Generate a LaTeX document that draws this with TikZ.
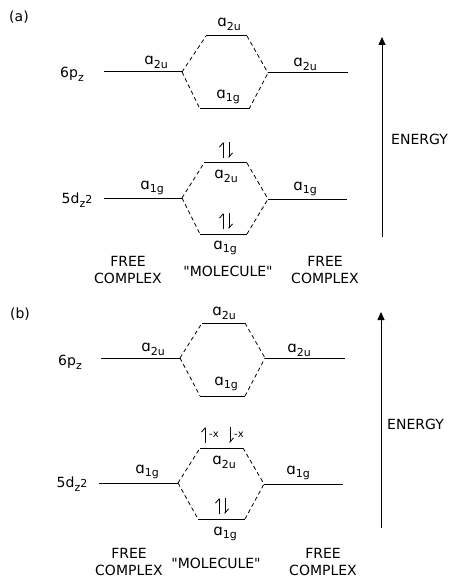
\documentclass[tikz,border=0pt]{standalone}
\usepackage{fontspec}
\setmainfont{DejaVu Sans}[Ligatures=TeXOff]
\usetikzlibrary{arrows.meta}
\newcommand{\sbs}[1]{\raisebox{-0.5ex}{\fontsize{11}{11}\selectfont #1}}
\newcommand{\orb}[1]{{\fontsize{15}{15}\selectfont ɑ}\sbs{#1}}
\newcommand{\pz}{6p\sbs{z}}
\newcommand{\dz}{5d\sbs{z}{\fontsize{11}{11}\selectfont 2}}
\newcommand{\spins}[2]{%
  \draw[spin] (#1-3,#2) -- (#1-3,#2-16);
  \draw[spin] (#1+3,#2-16) -- (#1+3,#2);}
\begin{document}
\begin{tikzpicture}[x=1pt,y=-1pt,
  font=\fontsize{14}{17}\selectfont,
  lvl/.style={line width=1pt},
  corr/.style={line width=0.8pt, dash pattern=on 4pt off 3pt},
  lab/.style={inner sep=0pt},
  spin/.style={line width=0.8pt, -{Straight Barb[left,length=4pt,width=7pt]}},
  axis/.style={line width=0.8pt, -{Triangle[length=8pt,width=7pt]}},
  captxt/.style={inner sep=0pt, align=center}]
\fill[white] (0,0) rectangle (450,580);
\useasboundingbox (0,0) rectangle (450,580);

% ================= panel (a) =================
\node[lab] (pa) at (19,17) {(a)};
% upper levels
\coordinate (a1L) at (104,72);
\coordinate (a1l) at (182,72);
\coordinate (a1tl) at (206,36);
\coordinate (a1tr) at (247,36);
\coordinate (a1r) at (268,73);
\coordinate (a1bl) at (200,109);
\coordinate (a1br) at (249,109);
\coordinate (a1R) at (348,73);
\draw[lvl] (a1L) -- (a1l);
\draw[lvl] (a1r) -- (a1R);
\draw[lvl] (a1tl) -- (a1tr);
\draw[lvl] (a1bl) -- (a1br);
\draw[corr] (a1l) -- (a1tl);
\draw[corr] (a1tr) -- (a1r);
\draw[corr] (a1l) -- (a1bl);
\draw[corr] (a1br) -- (a1r);
\node[lab] (a1name) at (72,74) {\pz};
\node[lab] (a1la) at (156,62) {\orb{2u}};
\node[lab] (a1ta) at (229,24) {\orb{2u}};
\node[lab] (a1ba) at (228,97) {\orb{1g}};
\node[lab] (a1ra) at (305,64) {\orb{2u}};
% lower levels
\coordinate (a2L) at (104,198);
\coordinate (a2l) at (182,198);
\coordinate (a2tl) at (204,163);
\coordinate (a2tr) at (247,163);
\coordinate (a2r) at (268,199);
\coordinate (a2bl) at (200,234);
\coordinate (a2br) at (247,234);
\coordinate (a2R) at (347,199);
\draw[lvl] (a2L) -- (a2l);
\draw[lvl] (a2r) -- (a2R);
\draw[lvl] (a2tl) -- (a2tr);
\draw[lvl] (a2bl) -- (a2br);
\draw[corr] (a2l) -- (a2tl);
\draw[corr] (a2tr) -- (a2r);
\draw[corr] (a2l) -- (a2bl);
\draw[corr] (a2br) -- (a2r);
\node[lab] (a2name) at (77,200) {\dz};
\node[lab] (a2la) at (152,188) {\orb{1g}};
\node[lab] (a2ta) at (226,176) {\orb{2u}};
\node[lab] (a2ba) at (225,248) {\orb{1g}};
\node[lab] (a2ra) at (305,189) {\orb{1g}};
\spins{226}{158}
\spins{226}{229}
% captions
\node[captxt] (a3l) at (128,270) {FREE\\COMPLEX};
\node[captxt] (a3m) at (228,271) {"MOLECULE"};
\node[captxt] (a3r) at (325,270) {FREE\\COMPLEX};
% energy axis
\coordinate (ea0) at (382,237);
\coordinate (ea1) at (382,37);
\draw[axis] (ea0) -- (ea1);
\node[lab, anchor=west] (ea) at (391,139) {ENERGY};

% ================= panel (b) =================
\node[lab] (pb) at (20,314) {(b)};
% upper levels
\coordinate (b1L) at (101,358);
\coordinate (b1l) at (180,358);
\coordinate (b1tl) at (202,323);
\coordinate (b1tr) at (245,323);
\coordinate (b1r) at (265,358);
\coordinate (b1bl) at (200,396);
\coordinate (b1br) at (245,396);
\coordinate (b1R) at (345,358);
\draw[lvl] (b1L) -- (b1l);
\draw[lvl] (b1r) -- (b1R);
\draw[lvl] (b1tl) -- (b1tr);
\draw[lvl] (b1bl) -- (b1br);
\draw[corr] (b1l) -- (b1tl);
\draw[corr] (b1tr) -- (b1r);
\draw[corr] (b1l) -- (b1bl);
\draw[corr] (b1br) -- (b1r);
\node[lab] (b1name) at (70,362) {\pz};
\node[lab] (b1la) at (153,349) {\orb{2u}};
\node[lab] (b1ta) at (224,313) {\orb{2u}};
\node[lab] (b1ba) at (226,384) {\orb{1g}};
\node[lab] (b1ra) at (299,350) {\orb{2u}};
% lower levels
\coordinate (b2L) at (99,483);
\coordinate (b2l) at (178,483);
\coordinate (b2tl) at (200,448);
\coordinate (b2tr) at (243,448);
\coordinate (b2r) at (264,484);
\coordinate (b2bl) at (198,519);
\coordinate (b2br) at (245,519);
\coordinate (b2R) at (343,484);
\draw[lvl] (b2L) -- (b2l);
\draw[lvl] (b2r) -- (b2R);
\draw[lvl] (b2tl) -- (b2tr);
\draw[lvl] (b2bl) -- (b2br);
\draw[corr] (b2l) -- (b2tl);
\draw[corr] (b2tr) -- (b2r);
\draw[corr] (b2l) -- (b2bl);
\draw[corr] (b2br) -- (b2r);
\node[lab] (b2name) at (72,484) {\dz};
\node[lab] (b2la) at (147,472) {\orb{1g}};
\node[lab] (b2ta) at (224,462) {\orb{2u}};
\node[lab] (b2ba) at (225,534) {\orb{1g}};
\node[lab] (b2ra) at (298,473) {\orb{1g}};
% partially filled a2u
\draw[spin] (205,443) -- (205,427);
\node[lab] (bx1) at (214,435) {\fontsize{10}{10}\selectfont -x};
\draw[spin] (230,427) -- (230,443);
\node[lab] (bx2) at (239,435) {\fontsize{10}{10}\selectfont -x};
\spins{222}{514}
% captions
\node[captxt] (b3l) at (129,562) {FREE\\COMPLEX};
\node[captxt] (b3m) at (216,563) {"MOLECULE"};
\node[captxt] (b3r) at (323,562) {FREE\\COMPLEX};
% energy axis
\coordinate (eb0) at (381,528);
\coordinate (eb1) at (381,312);
\draw[axis] (eb0) -- (eb1);
\node[lab, anchor=west] (eb) at (387,424) {ENERGY};
\end{tikzpicture}
\end{document}
